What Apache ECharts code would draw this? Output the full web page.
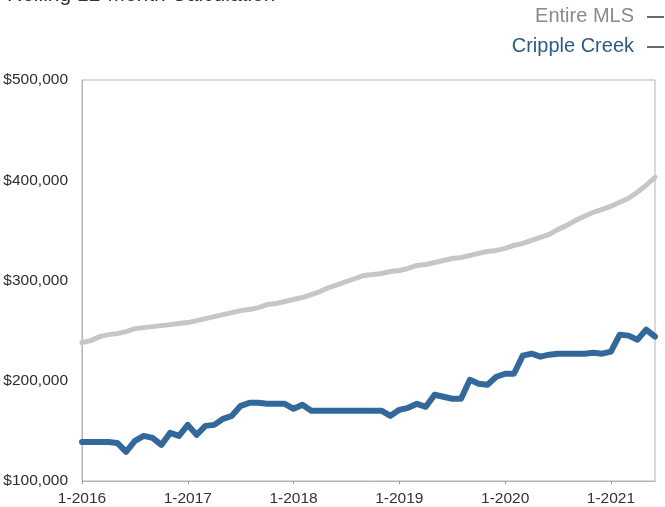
<!DOCTYPE html>
<html>
<head>
<meta charset="utf-8">
<script src="https://cdn.jsdelivr.net/npm/echarts@6/dist/echarts.min.js"></script>
<style>
  html, body { margin: 0; padding: 0; background: #ffffff; }
  #chart { width: 665px; height: 507px; }
</style>
</head>
<body>
<div id="chart"></div>
<script>
// Median sales price, rolling 12-month, Jan 2016 through Jun 2021 (monthly)
const years = [2016, 2017, 2018, 2019, 2020, 2021];
const lastMonthOf2021 = 6;

// Entire MLS (thousands of dollars)
const entireMLS = [
  238, 240, 244, 246, 247, 249, 252, 253, 254, 255, 256, 257,
  258, 260, 262, 264, 266, 268, 270, 271, 273, 276, 277, 279,
  281, 283, 286, 289, 293, 296, 299, 302, 305, 306, 307, 309,
  310, 312, 315, 316, 318, 320, 322, 323, 325, 327, 329, 330,
  332, 335, 337, 340, 343, 346, 351, 355, 360, 364, 368, 371,
  374, 378, 382, 388, 395, 403
];

// Cripple Creek (thousands of dollars)
const crippleCreek = [
  139, 139, 139, 139, 138, 129, 140, 145, 143, 136, 148, 145,
  156, 146, 155, 156, 162, 165, 175, 178, 178, 177, 177, 177,
  172, 176, 170, 170, 170, 170, 170, 170, 170, 170, 170, 165,
  171, 173, 177, 174, 186, 184, 182, 182, 201, 197, 196, 204,
  207, 207, 225, 227, 224, 226, 227, 227, 227, 227, 228, 227,
  229, 246, 245, 241, 251, 244
];

const yTicks = { min: 100000, max: 500000, step: 100000 };

// month labels such as "1-2016"
const categories = [];
years.forEach(function (y) {
  const last = (y === 2021) ? lastMonthOf2021 : 12;
  for (let m = 1; m <= last; m++) categories.push(m + '-' + y);
});

const toDollars = function (arr) { return arr.map(function (v) { return v * 1000; }); };

const font = "'Liberation Sans', Arial, Helvetica, sans-serif";
const chart = echarts.init(document.getElementById('chart'), null, { renderer: 'canvas' });

chart.setOption({
  animation: false,
  backgroundColor: '#ffffff',
  grid: {
    left: 82, right: 10, top: 80, bottom: 26,
    show: true, borderColor: '#b4b4b4', borderWidth: 1,
    containLabel: false
  },
  xAxis: {
    type: 'category',
    data: categories,
    boundaryGap: false,
    axisLine: { show: true, lineStyle: { color: '#b4b4b4', width: 1 } },
    axisTick: {
      show: true, length: 3, inside: false,
      interval: function (i) { return i % 12 === 0; },
      lineStyle: { color: '#999' }
    },
    axisLabel: {
      interval: function (i) { return i % 12 === 0; },
      color: '#333', fontSize: 15.5, fontFamily: font, margin: 10
    },
    splitLine: { show: false }
  },
  yAxis: {
    type: 'value',
    min: yTicks.min, max: yTicks.max, interval: yTicks.step,
    axisLine: { show: true, lineStyle: { color: '#b4b4b4', width: 1 } },
    axisTick: { show: false },
    splitLine: { show: false },
    axisLabel: {
      color: '#2e2e2e', fontSize: 15.5, fontFamily: font, margin: 14,
      formatter: function (v) { return '$' + v.toLocaleString('en-US'); }
    }
  },
  series: [
    {
      name: 'Entire MLS',
      type: 'line',
      data: toDollars(entireMLS),
      showSymbol: false,
      lineStyle: { color: '#c6c6c6', width: 5, cap: 'round', join: 'round' },
      z: 2
    },
    {
      name: 'Cripple Creek',
      type: 'line',
      data: toDollars(crippleCreek),
      showSymbol: false,
      lineStyle: { color: '#33699a', width: 6, cap: 'round', join: 'round' },
      z: 3
    }
  ],
  graphic: [
    {
      type: 'text', left: 7, top: -15,
      style: { text: 'Rolling 12-Month Calculation', fill: '#333', font: '21px ' + font }
    },
    {
      type: 'text', right: 31, top: 6,
      style: { text: 'Entire MLS', fill: '#8a8a8a', font: '20px ' + font }
    },
    {
      type: 'line', shape: { x1: 647, y1: 17, x2: 664, y2: 17 },
      style: { stroke: '#3a3a3a', lineWidth: 1.5 }
    },
    {
      type: 'text', right: 31, top: 36,
      style: { text: 'Cripple Creek', fill: '#2d5a80', font: '20px ' + font }
    },
    {
      type: 'line', shape: { x1: 647, y1: 47, x2: 664, y2: 47 },
      style: { stroke: '#3a3a3a', lineWidth: 1.5 }
    }
  ]
});
</script>
</body>
</html>
